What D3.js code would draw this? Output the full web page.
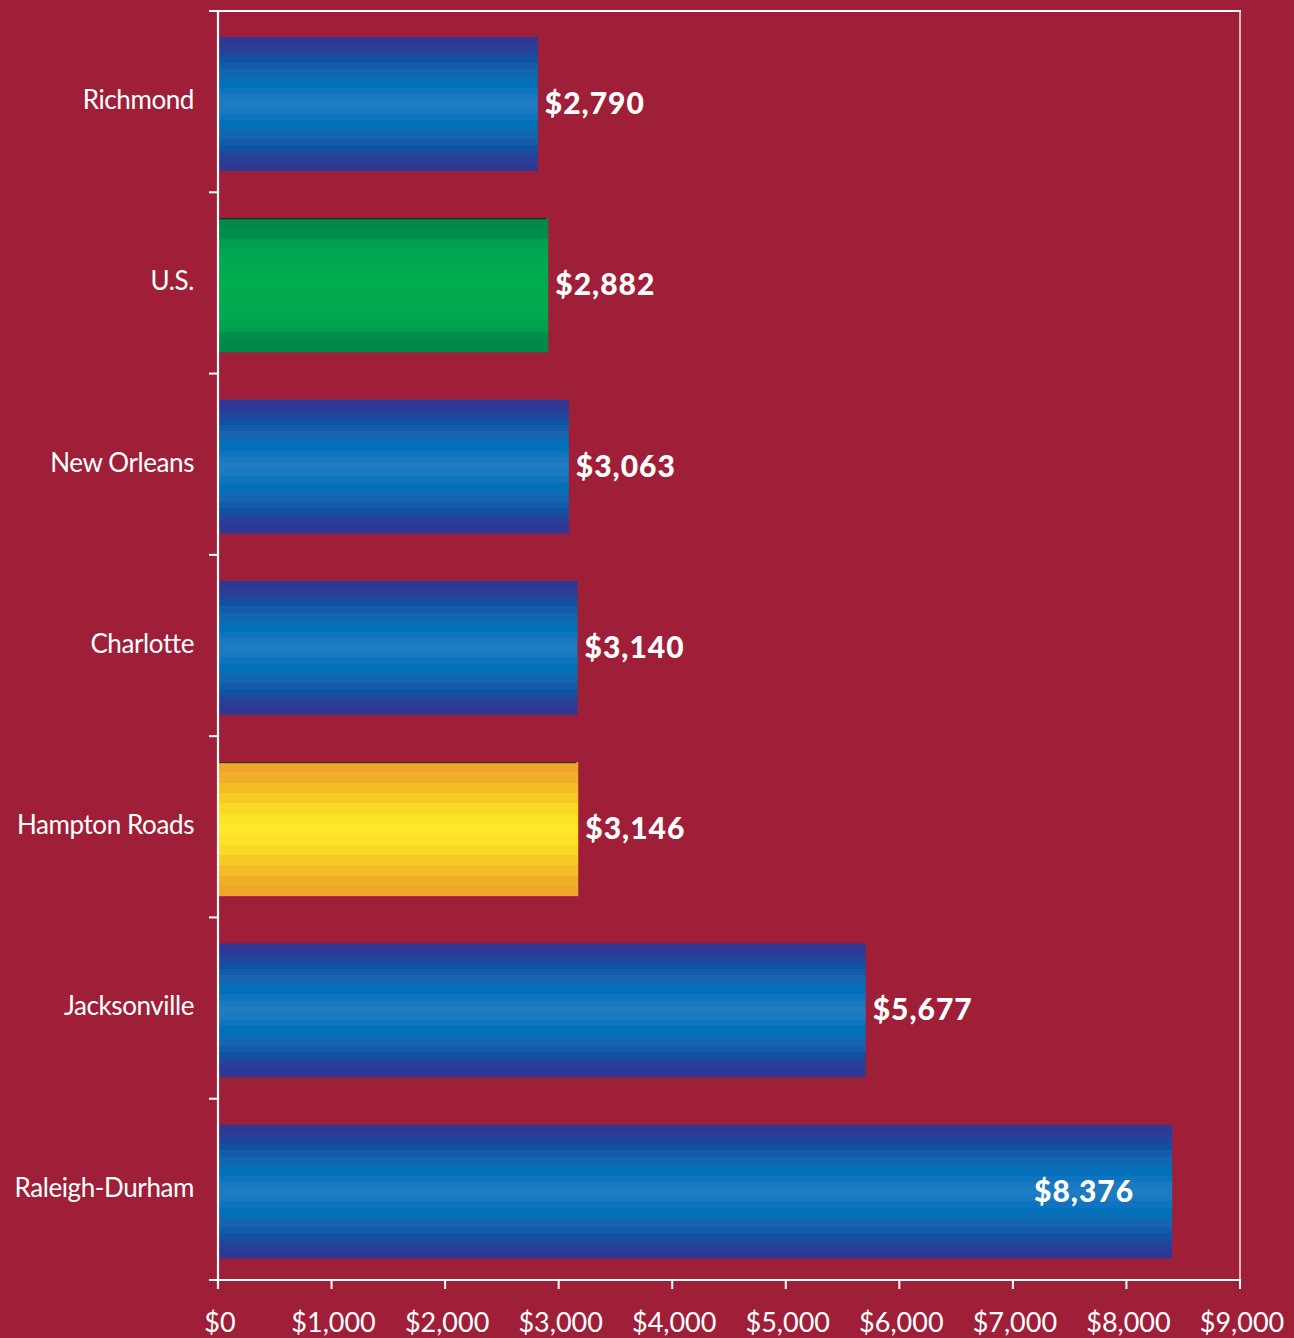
<!DOCTYPE html>
<html><head><meta charset="utf-8">
<script src="https://cdn.jsdelivr.net/npm/d3@7"></script>
<style>html,body{margin:0;padding:0;background:#A01F38;}svg{display:block;}</style>
</head><body>
<script>
const categories = ["Richmond","U.S.","New Orleans","Charlotte","Hampton Roads","Jacksonville","Raleigh-Durham"];
const values = [2790,2882,3063,3140,3146,5677,8376];
const valueLabels = ["$2,790","$2,882","$3,063","$3,140","$3,146","$5,677","$8,376"];
const barKinds = ["blue","green","blue","blue","yellow","blue","blue"];
const tickValues = [0,1000,2000,3000,4000,5000,6000,7000,8000,9000];
const tickLabels = ["$0","$1,000","$2,000","$3,000","$4,000","$5,000","$6,000","$7,000","$8,000","$9,000"];

const W=1294,H=1338;
const svg=d3.select("body").append("svg").attr("width",W).attr("height",H);
svg.append("rect").attr("width",W).attr("height",H).attr("fill","#A01F38");

const x=d3.scaleLinear().domain([0,9000]).range([218,1240]);
const y=d3.scaleBand().domain(categories).range([11,1280]);

const defs=svg.append("defs");
function stepGrad(id,cols){
  const g=defs.append("linearGradient").attr("id",id).attr("x1",0).attr("y1",0).attr("x2",0).attr("y2",1);
  const full=cols.concat(cols.slice(0,-1).reverse());
  const n=full.length;
  full.forEach((c,i)=>{
    g.append("stop").attr("offset",(i/n)).attr("stop-color",c);
    g.append("stop").attr("offset",((i+1)/n)).attr("stop-color",c);
  });
}
stepGrad("blue",["#2E3892","#2A3C96","#22449B","#0F52A2","#145CAA","#1664AF","#0C6BB5","#0070BA","#0F74BD","#1A79C0","#1E7CC2"]);
stepGrad("green",["#00874A","#008C4B","#00A04F","#00A650","#00A94F","#00AB4F","#00AC4F"]);
stepGrad("yellow",["#EFA62A","#F1AE28","#F4BC25","#F7CB24","#F9D826","#FCE128","#FFE72A"]);

const bandTop=26, barH=134;
const g=svg.append("g");
g.selectAll("rect.bar").data(categories).join("rect")
  .attr("x",x(0)+1).attr("y",c=>y(c)+bandTop)
  .attr("width",(c,i)=>x(values[i])-x(0)+2).attr("height",barH)
  .attr("fill",(c,i)=>"url(#"+barKinds[i]+")");
g.selectAll("line.edge").data(categories.filter((c,i)=>barKinds[i]!=="blue")).join("line")
  .attr("x1",x(0)+1).attr("x2",c=>x(values[categories.indexOf(c)])+1)
  .attr("y1",c=>y(c)+bandTop+0.5).attr("y2",c=>y(c)+bandTop+0.5)
  .attr("stroke","#1a1a1a").attr("stroke-width",1);

g.selectAll("text.val").data(categories).join("text")
  .attr("x",(c,i)=> i===6 ? x(values[i])-35 : x(values[i])+10)
  .attr("y",c=>y(c)+bandTop+barH/2+10)
  .attr("text-anchor",(c,i)=> i===6 ? "end" : "start")
  .attr("fill","#fff").attr("font-family","Lato, 'Open Sans', sans-serif")
  .attr("font-weight","900").attr("font-size",30).attr("letter-spacing",1)
  .text((c,i)=>valueLabels[i]);

g.selectAll("text.cat").data(categories).join("text")
  .attr("x",194).attr("y",c=>y(c)+bandTop+barH/2+5)
  .attr("text-anchor","end").attr("fill","#fff")
  .attr("font-family","Lato, 'Open Sans', sans-serif").attr("font-size",26).attr("letter-spacing",-0.4)
  .text(c=>c);

const fr=svg.append("g").attr("stroke","#fff").attr("fill","none");
fr.append("line").attr("x1",210).attr("x2",1241).attr("y1",11).attr("y2",11).attr("stroke-width",2);
fr.append("line").attr("x1",1240).attr("x2",1240).attr("y1",11).attr("y2",1281).attr("stroke-width",1.6).attr("stroke","#F0D8DC");
fr.append("line").attr("x1",x(0)).attr("x2",x(0)).attr("y1",10).attr("y2",1289).attr("stroke-width",2.2);
fr.append("line").attr("x1",210).attr("x2",1241).attr("y1",1280).attr("y2",1280).attr("stroke-width",2.2);
const bounds=categories.map(c=>y(c)).concat([y.range()[1]]);
fr.selectAll("line.lt").data(bounds).join("line")
  .attr("x1",209).attr("x2",x(0)).attr("y1",d=>d).attr("y2",d=>d).attr("stroke-width",2);
fr.selectAll("line.bt").data(tickValues).join("line")
  .attr("x1",d=>x(d)).attr("x2",d=>x(d)).attr("y1",1280).attr("y2",1289).attr("stroke-width",2);
svg.selectAll("text.tick").data(tickValues).join("text")
  .attr("x",d=>x(d)+2).attr("y",1332).attr("text-anchor","middle")
  .attr("fill","#fff").attr("font-family","Lato, 'Open Sans', sans-serif").attr("font-size",27)
  .text((d,i)=>tickLabels[i]);
</script>
</body></html>
